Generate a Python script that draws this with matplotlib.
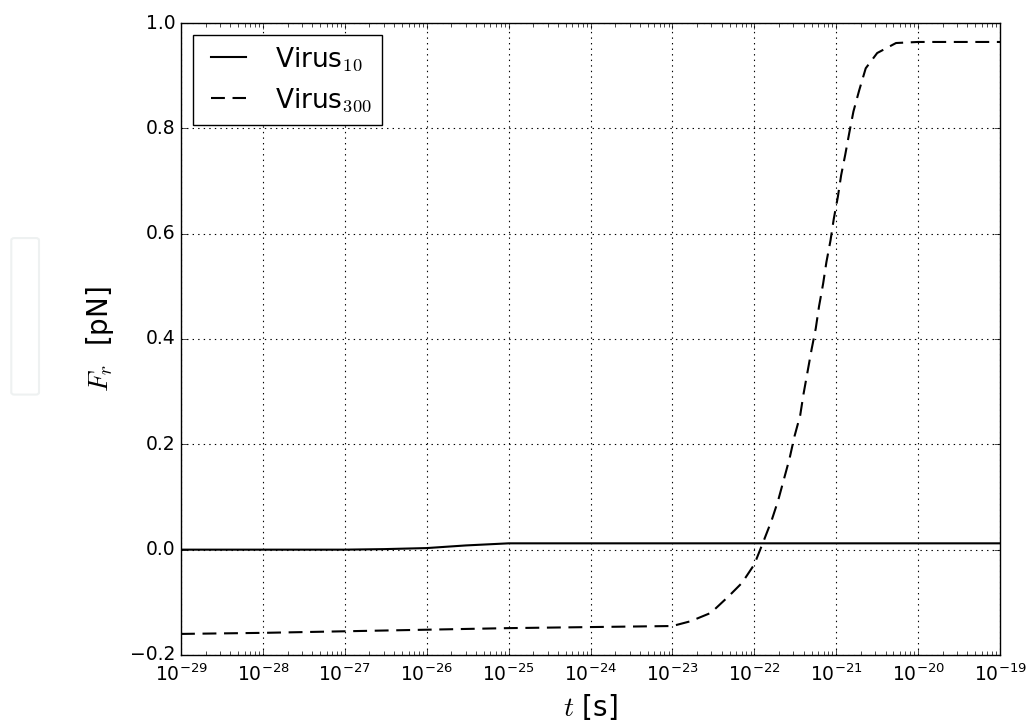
import matplotlib
matplotlib.use("Agg")
import matplotlib.pyplot as plt
from matplotlib.patches import FancyBboxPatch
from matplotlib.ticker import LogLocator, NullFormatter, FuncFormatter
import numpy as np

plt.style.use("classic")
plt.rcParams["font.family"] = ["DejaVu Sans"]
plt.rcParams["mathtext.fontset"] = "cm"
plt.rcParams["lines.scale_dashes"] = False

# Tiempo (s) y fuerza radial (pN) para cada virus
t_v10 = [1e-29, 1e-28, 1e-27, 3e-27, 1e-26, 3e-26, 1e-25, 1e-24, 1e-22, 1e-20, 1e-19]
f_v10 = [0.0, 0.0, 0.0, 0.001, 0.003, 0.008, 0.012, 0.012, 0.012, 0.012, 0.012]

log_t_v300 = [-29.0, -28.0, -27.0, -26.0, -25.0, -24.0, -23.0, -22.78, -22.53,
              -22.31, -22.15, -22.00, -21.88, -21.79, -21.71, -21.64, -21.57,
              -21.51, -21.44, -21.40, -21.35, -21.30, -21.25, -21.21, -21.16,
              -21.12, -21.07, -21.03, -20.98, -20.94, -20.89, -20.84, -20.79,
              -20.72, -20.64, -20.50, -20.27, -20.0, -19.5, -19.0]
f_v300 = [-0.160, -0.158, -0.155, -0.152, -0.149, -0.147, -0.145, -0.136, -0.120,
          -0.088, -0.063, -0.028, 0.019, 0.055, 0.093, 0.133, 0.173,
          0.215, 0.255, 0.295, 0.338, 0.381, 0.420, 0.462, 0.505,
          0.546, 0.587, 0.628, 0.670, 0.711, 0.750, 0.792, 0.832,
          0.872, 0.914, 0.943, 0.962, 0.964, 0.964, 0.964]
t_v300 = [10.0 ** e for e in log_t_v300]

fig = plt.figure(figsize=(10.26, 7.28), dpi=100, facecolor="white")
ax = fig.add_axes([0.1764, 0.1003, 0.7983, 0.8681])

ax.plot(t_v10, f_v10, "k-", lw=1.5, label=r"Virus$_{10}$")
ax.plot(t_v300, f_v300, "k--", lw=1.5, dashes=(10, 5.5), label=r"Virus$_{300}$")

ax.set_xscale("log")
ax.set_xlim(1e-29, 1e-19)
ax.set_ylim(-0.2, 1.0)
ax.set_xticks([10.0 ** e for e in range(-29, -18)])
ax.xaxis.set_major_formatter(FuncFormatter(
    lambda v, pos: r"$\mathdefault{10^{%d}}$" % round(np.log10(v))))
ax.xaxis.set_minor_locator(LogLocator(base=10, subs=np.arange(2, 10), numticks=200))
ax.xaxis.set_minor_formatter(NullFormatter())
ax.set_yticks(np.arange(-0.2, 1.01, 0.2))
ax.grid(True, which="major", ls=":", color="k", lw=0.8)
ax.tick_params(labelsize=13.5)
ax.tick_params(axis="x", labelsize=13.5, pad=6)
ax.tick_params(which="minor", length=3)

ax.set_xlabel(r"$t$ [s]", fontsize=20, labelpad=5)
ax.set_ylabel(r"$F_r$  [pN]", fontsize=20, labelpad=10)

leg = ax.legend(loc="upper left", fontsize=19, numpoints=2, handlelength=1.9,
                borderaxespad=0.45)
leg.get_frame().set_linewidth(1.0)

# recuadro tenue a la izquierda
fig.patches.append(FancyBboxPatch((0.011, 0.458), 0.027, 0.215,
                                  boxstyle="round,pad=0,rounding_size=0.003",
                                  transform=fig.transFigure, fill=False,
                                  ec="#eef1f1", lw=1.5))

fig.savefig("out.png", dpi=100, facecolor="white")
